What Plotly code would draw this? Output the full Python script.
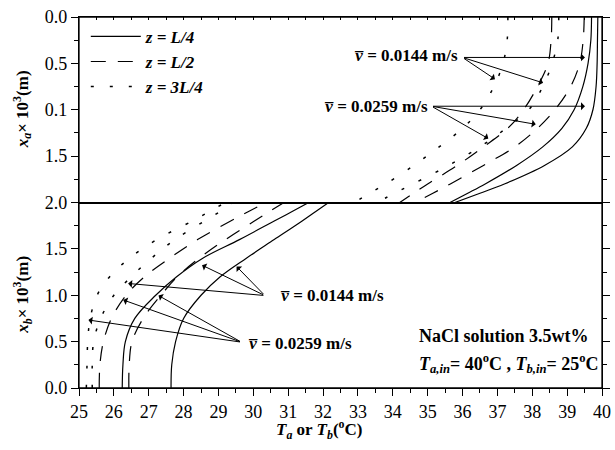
import plotly.graph_objects as go
from plotly.subplots import make_subplots

# positions x ×10^3 (m)
pos_a = [0, 0.25, 0.5, 0.75, 1.0, 1.2, 1.4, 1.6, 1.8, 1.9, 2.0]
pos_b = [0, 0.25, 0.5, 0.75, 1.0, 1.2, 1.4, 1.6, 1.8, 1.9, 2.0]

# hot side temperature T_a (°C)
Ta_L4_1 = [39.88, 39.87, 39.86, 39.83, 39.74, 39.55, 39.15, 38.35, 37.2, 36.5, 35.78]
Ta_L4_2 = [39.70, 39.68, 39.60, 39.45, 39.2, 38.85, 38.3, 37.55, 36.65, 36.15, 35.64]
Ta_L2_1 = [39.49, 39.46, 39.36, 39.1, 38.65, 38.15, 37.5, 36.6, 35.65, 35.15, 34.65]
Ta_L2_2 = [38.56, 38.54, 38.45, 38.15, 37.75, 37.3, 36.6, 35.85, 35.0, 34.6, 34.2]
Ta_3L4_1 = [38.76, 38.73, 38.57, 38.3, 37.9, 37.25, 36.5, 35.6, 34.58, 34.05, 33.55]
Ta_3L4_2 = [37.30, 37.28, 37.16, 36.9, 36.5, 36.0, 35.33, 34.6, 33.8, 33.33, 32.9]

# cold side temperature T_b (°C)
Tb_L4_1 = [26.24, 26.26, 26.33, 26.6, 27.2, 27.8, 28.55, 29.6, 30.6, 31.1, 31.59]
Tb_L4_2 = [27.64, 27.66, 27.77, 28.0, 28.5, 29.05, 29.8, 30.6, 31.4, 31.78, 32.16]
Tb_L2_1 = [25.58, 25.6, 25.7, 25.93, 26.35, 26.88, 27.6, 28.4, 29.35, 29.85, 30.35]
Tb_L2_2 = [26.43, 26.44, 26.52, 26.84, 27.35, 27.82, 28.45, 29.2, 30.03, 30.45, 30.88]
Tb_3L4_1 = [25.21, 25.23, 25.25, 25.32, 25.52, 25.88, 26.45, 27.23, 28.25, 28.73, 29.2]
Tb_3L4_2 = [25.38, 25.38, 25.42, 25.62, 26.0, 26.5, 27.08, 27.75, 28.6, 29.03, 29.4]

upper_tickvals = [0, 0.5, 1.0, 1.5]
upper_ticktext = ["0.0", "0.5", "0.1", "1.5"]
lower_tickvals = [0, 0.5, 1.0, 1.5, 2.0]
lower_ticktext = ["0.0", "0.5", "1.0", "1.5", "2.0"]

legend_names = ["<b><i>z = L/4</i></b>", "<b><i>z = L/2</i></b>", "<b><i>z = 3L/4</i></b>"]
vel_labels = ["0.0144", "0.0259"]

FONT = "Liberation Serif"
styles = {
    "solid": dict(color="black", width=1.2, dash="solid"),
    "dash": dict(color="black", width=1.2, dash="15px,12px"),
    "dot": dict(color="black", width=1.5, dash="3px,16px"),
}

fig = make_subplots(rows=2, cols=1, shared_xaxes=False, vertical_spacing=0)

upper = [(Ta_L4_1, "solid", 0), (Ta_L4_2, "solid", None), (Ta_L2_1, "dash", 1),
         (Ta_L2_2, "dash", None), (Ta_3L4_1, "dot", 2), (Ta_3L4_2, "dot", None)]
lower = [Tb_L4_1, Tb_L4_2, Tb_L2_1, Tb_L2_2, Tb_3L4_1, Tb_3L4_2]
lower_styles = ["solid", "solid", "dash", "dash", "dot", "dot"]

for T, st, leg in upper:
    fig.add_trace(go.Scatter(x=T, y=pos_a, mode="lines", line=styles[st], line_shape="spline",
                             name=legend_names[leg] if leg is not None else "",
                             showlegend=leg is not None), row=1, col=1)
for T, st in zip(lower, lower_styles):
    fig.add_trace(go.Scatter(x=T, y=pos_b, mode="lines", line=styles[st], line_shape="spline",
                             showlegend=False), row=2, col=1)

axfont = dict(family=FONT, size=18, color="black")
common_x = dict(range=[25, 40], showline=True, linecolor="black", linewidth=1.2, showgrid=False,
                zeroline=False, automargin=False, ticklabeloverflow="allow")
fig.update_xaxes(**common_x, side="top", ticks="inside", tickmode="linear", tick0=25, dtick=0.5,
                 ticklen=3, tickcolor="black", showticklabels=False, mirror=True, row=1, col=1)
fig.update_xaxes(**common_x, side="bottom", ticks="outside", tickmode="linear", tick0=25, dtick=1,
                 ticklen=7, tickwidth=1.2, tickcolor="black", tickfont=axfont, mirror=False,
                 minor=dict(ticks="outside", dtick=0.5, tick0=25, ticklen=4, tickcolor="black"),
                 row=2, col=1)
common_y = dict(showline=True, linecolor="black", linewidth=1.3, showgrid=False, zeroline=False,
                ticks="outside", ticklen=7, tickwidth=1.2, tickcolor="black", tickfont=axfont,
                mirror="ticks", tickmode="array", automargin=False, ticklabeloverflow="allow",
                minor=dict(ticks="outside", tickmode="linear", tick0=0, dtick=0.25, ticklen=4, tickcolor="black"))
fig.update_yaxes(**common_y, range=[2, 0], tickvals=upper_tickvals, ticktext=upper_ticktext, row=1, col=1)
fig.update_yaxes(**common_y, range=[0, 2], tickvals=lower_tickvals, ticktext=lower_ticktext, row=2, col=1)

# plot frame and the boundary between the two half-channels
fig.add_shape(type="rect", xref="paper", yref="paper", x0=0, y0=0, x1=1, y1=1,
              line=dict(color="black", width=1.3), fillcolor="rgba(0,0,0,0)", layer="above")
fig.add_shape(type="line", xref="paper", yref="paper", x0=0, y0=0.5, x1=1, y1=0.5,
              line=dict(color="black", width=1.2), layer="above")

vbar = "<i>v\u0305</i>"
annotations = []

def label(x, y, text, xr, yr, size=17, angle=0, xanchor="left"):
    annotations.append(dict(x=x, y=y, xref=xr, yref=yr, text=text, showarrow=False,
                            xanchor=xanchor, yanchor="middle", textangle=angle,
                            font=dict(family=FONT, size=size, color="black")))

def arrow(tail, head, xr, yr):
    annotations.append(dict(x=head[0], y=head[1], ax=tail[0], ay=tail[1], xref=xr, yref=yr,
                            axref=xr, ayref=yr, text="", showarrow=True, arrowhead=1,
                            arrowsize=1.3, arrowwidth=1, arrowcolor="black", standoff=0,
                            startstandoff=0))

# axis titles
label(-0.108, 0.75, "<b><i>x</i><sub><i>a</i></sub>× 10<sup>3</sup>(m)</b>", "paper", "paper", size=17, angle=-90, xanchor="center")
label(-0.108, 0.25, "<b><i>x</i><sub><i>b</i></sub>× 10<sup>3</sup>(m)</b>", "paper", "paper", size=17, angle=-90, xanchor="center")
label(0.459, -0.113, "<b><i>T</i><sub><i>a</i></sub> or <i>T</i><sub><i>b</i></sub>(<sup>o</sup>C)</b>", "paper", "paper", size=17, xanchor="center")

# upper panel labels/arrows
label(32.82, 0.41, "<b>" + vbar + " = " + vel_labels[0] + " m/s</b>", "x", "y")
for h in [(39.51, 0.436), (36.93, 0.67), (38.31, 0.71)]:
    arrow((36.0, 0.436), h, "x", "y")
label(31.96, 0.96, "<b>" + vbar + " = " + vel_labels[1] + " m/s</b>", "x", "y")
for h in [(39.51, 0.962), (38.10, 1.157), (36.74, 1.311)]:
    arrow((35.11, 0.962), h, "x", "y")

# lower panel labels/arrows
label(30.70, 0.997, "<b>" + vbar + " = " + vel_labels[0] + " m/s</b>", "x2", "y2")
for h in [(29.52, 1.31), (28.53, 1.324), (26.41, 1.127)]:
    arrow((30.33, 0.997), h, "x2", "y2")
label(29.80, 0.477, "<b>" + vbar + " = " + vel_labels[1] + " m/s</b>", "x2", "y2")
for h in [(27.28, 0.997), (26.27, 0.949), (25.27, 0.733)]:
    arrow((29.66, 0.494), h, "x2", "y2")

label(34.70, 0.566, "<b>NaCl solution 3.5wt%</b>", "x2", "y2", size=18)
label(34.70, 0.261, "<b><i>T</i><sub><i>a,in</i></sub>= 40<sup>o</sup>C , <i>T</i><sub><i>b,in</i></sub>= 25<sup>o</sup>C</b>",
      "x2", "y2", size=18)

fig.update_layout(
    width=615, height=450,
    margin=dict(l=79, r=13, t=17, b=62),
    paper_bgcolor="white", plot_bgcolor="white",
    font=dict(family=FONT, color="black"),
    annotations=annotations,
    showlegend=True,
    legend=dict(x=0.013, y=0.995, xanchor="left", yanchor="top", bgcolor="rgba(0,0,0,0)",
                font=dict(family=FONT, size=17, color="black"), itemwidth=50,
                tracegroupgap=0),
)

# remove the default 8px page margin so the figure sits at the window's corner
fig.write_html("out.html", config={"displayModeBar": False},
               post_script="document.body.style.margin='0';")
